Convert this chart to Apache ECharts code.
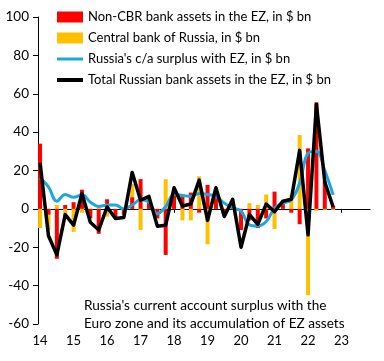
<!DOCTYPE html>
<html><head><meta charset="utf-8">
<script src="https://cdn.jsdelivr.net/npm/echarts@6/dist/echarts.min.js"></script>
<style>html,body{margin:0;padding:0;background:#fff}#c{width:384px;height:361px}</style>
</head><body><div id="c"></div>
<script>
// Quarterly observations, 2014Q1 .. 2022Q4 (index 0..35)
const quarters = ['14Q1','14Q2','14Q3','14Q4','15Q1','15Q2','15Q3','15Q4','16Q1','16Q2','16Q3','16Q4',
  '17Q1','17Q2','17Q3','17Q4','18Q1','18Q2','18Q3','18Q4','19Q1','19Q2','19Q3','19Q4',
  '20Q1','20Q2','20Q3','20Q4','21Q1','21Q2','21Q3','21Q4','22Q1','22Q2','22Q3','22Q4'];
const nonCBR = [34, -3, -26, 2, 3.5, 10, -5, -13, 5, -5, -3, 6, 15.5, 6, -5, -24, 9.5, 7.5, 8.5, -2, 12.5, 6, -2, 3, -11, -6, -10, -5, 9, 4, -2, -8, 31.5, 55.5, 14.5, 1.5];
const cbr = [-10, -11, 2, -5, -12, -2, -2, 2, -4, 0, -1.5, 13, -11, 0.5, -4, 15.5, 1.5, -6, -6, 17, -18.5, 5, -2, 2, -9, 3, 2, 7.5, -10.5, 0, 7, 38.5, -45, -1, -0.5, -0.5];
const caSurplus = [16, 11.5, 4, 7.5, 6, 7.3, 3.5, 1.3, 2, 2, 0, 2, 4.7, 3.5, -2.5, 1.2, 7.5, 7, 6.5, 8, 7.5, 6.4, 3, 0.5, -1.2, -8.3, -8.9, -6.6, 0.3, 3, 4.7, 13.4, 29, 30, 20, 7.3];
const total = [24, -14, -24, -3, -8.5, 8, -7, -11, 1, -5, -4.5, 19, 4.5, 6.5, -9, -8.5, 11, 1.5, 2.5, 15, -6, 11, -4, 5, -20, -3, -8, 2.5, -1.5, 4, 5, 30.5, -13.5, 54.5, 14, 1];
const yearLabels = ['14','15','16','17','18','19','20','21','22','23'];
const yearTickIndex = [0,4,8,12,16,20,24,28,32,36];

const names = ['Non-CBR bank assets in the EZ, in $ bn','Central bank of Russia, in $ bn',
  "Russia's c/a surplus with EZ, in $ bn",'Total Russian bank assets in the EZ, in $ bn'];
const FONT = 'Lato';
const pts = arr => arr.map((v, i) => [i, v]);

const chart = echarts.init(document.getElementById('c'), null, {renderer: 'canvas'});
chart.setOption({
  animation: false,
  backgroundColor: '#fff',
  textStyle: {fontFamily: FONT, color: '#000'},
  grid: {left: 38, right: 14, top: 17, bottom: 37, containLabel: false},
  title: {
    text: "Russia's current account surplus with the\nEuro zone and its accumulation of EZ assets",
    left: 84, top: 297, padding: 0,
    textStyle: {fontFamily: FONT, fontSize: 13.6, fontWeight: 'normal', color: '#000', lineHeight: 17.5}
  },
  legend: {
    orient: 'vertical', left: 52, top: 5.5, itemWidth: 26, itemHeight: 11, itemGap: 8,
    selectedMode: false,
    textStyle: {fontFamily: FONT, fontSize: 13, color: '#000', lineHeight: 11},
    data: [
      {name: names[0], icon: 'rect'},
      {name: names[1], icon: 'rect'},
      {name: names[2], icon: 'path://M0 0H26V3H0Z'},
      {name: names[3], icon: 'path://M0 0H26V4H0Z'}
    ]
  },
  xAxis: [
    {
      type: 'value', min: -0.25, max: 39.4, position: 'bottom',
      axisLine: {show: false, onZero: false},
      axisTick: {show: false},
      splitLine: {show: false},
      axisLabel: {customValues: yearTickIndex, formatter: v => yearLabels[yearTickIndex.indexOf(v)],
        margin: 10, fontSize: 13, color: '#000', fontFamily: FONT}
    },
    {
      type: 'value', min: -0.25, max: 39.4, position: 'top',
      axisLine: {show: true, onZero: true, lineStyle: {color: '#000', width: 1}},
      axisTick: {show: true, inside: true, length: 4, customValues: yearTickIndex, lineStyle: {color: '#000'}},
      axisLabel: {show: false},
      splitLine: {show: false}
    }
  ],
  yAxis: {
    type: 'value', min: -60, max: 100, interval: 20,
    axisLine: {show: true, onZero: false, lineStyle: {color: '#000', width: 1}},
    axisTick: {show: true, length: 5, lineStyle: {color: '#000'}},
    splitLine: {show: false},
    axisLabel: {margin: 9, fontSize: 13.5, color: '#000', fontFamily: FONT}
  },
  series: [
    {name: names[1], type: 'bar', stack: 'banks', xAxisIndex: 0, barWidth: 4,
      itemStyle: {color: '#FFC000'}, data: pts(cbr)},
    {name: names[0], type: 'bar', stack: 'banks', xAxisIndex: 0, barWidth: 4,
      itemStyle: {color: '#FF0000'}, data: pts(nonCBR)},
    {name: names[2], type: 'line', xAxisIndex: 0, smooth: 0.4, symbol: 'none',
      itemStyle: {color: '#1AA8E0'}, lineStyle: {color: '#1AA8E0', width: 3}, z: 3, data: pts(caSurplus)},
    {name: names[3], type: 'line', xAxisIndex: 0, symbol: 'none',
      itemStyle: {color: '#000'}, lineStyle: {color: '#000', width: 3.5, join: 'round'}, z: 4, data: pts(total)}
  ]
});
</script></body></html>
